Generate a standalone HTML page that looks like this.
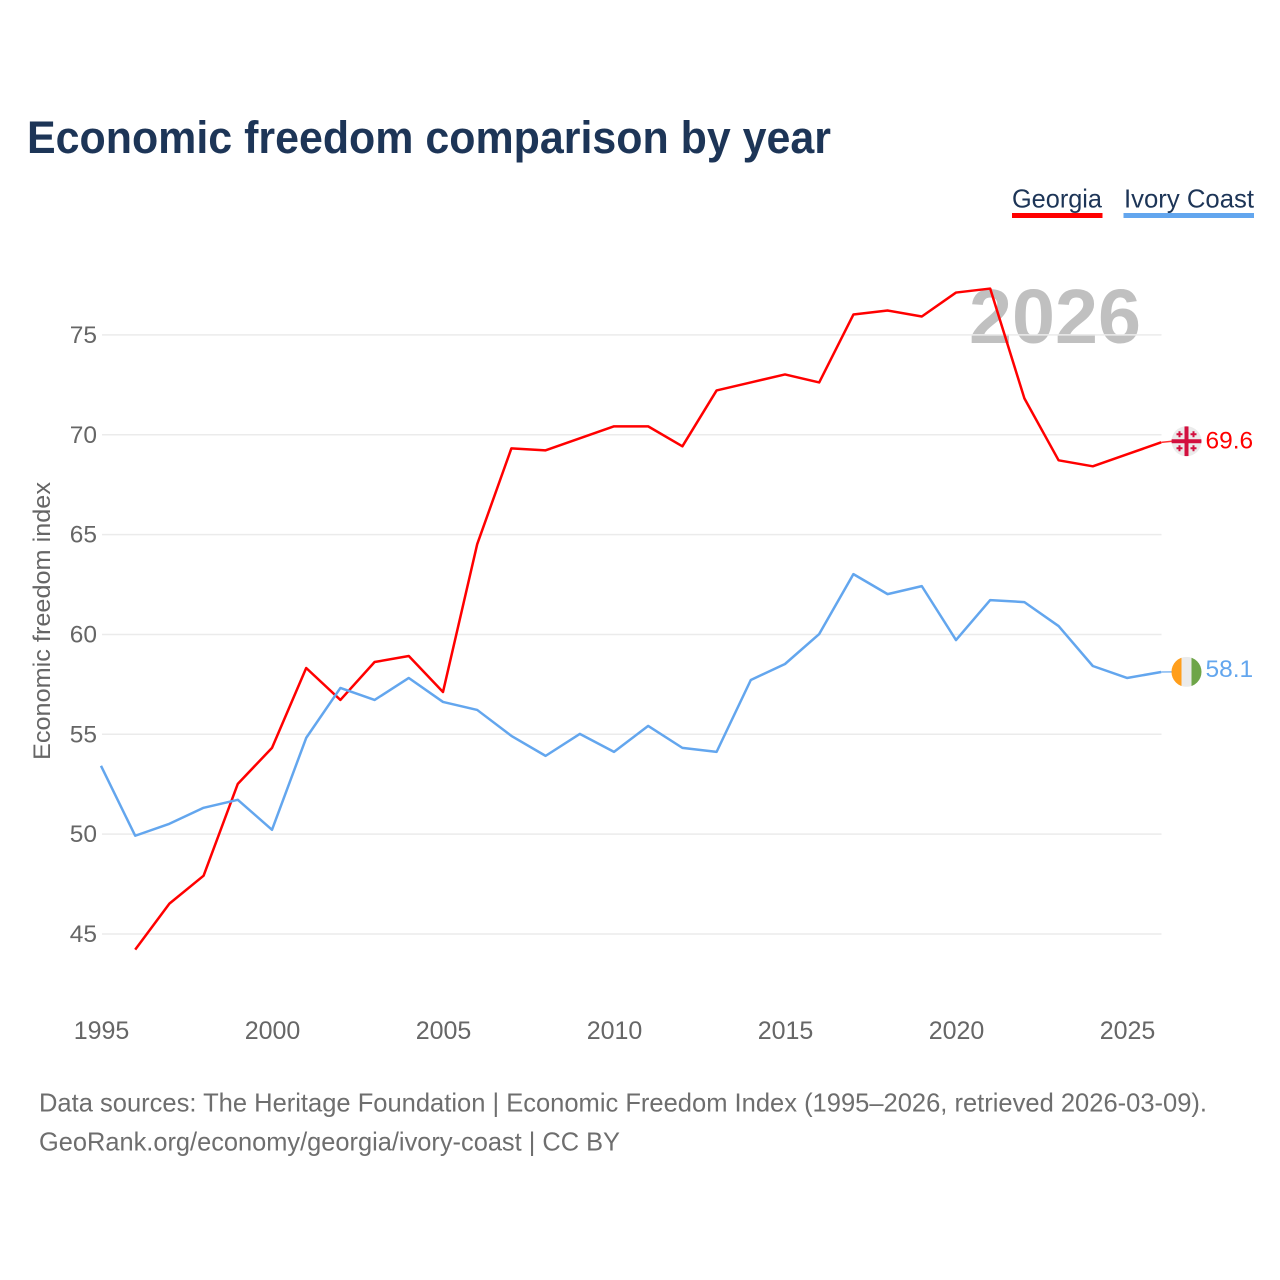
<!DOCTYPE html>
<html lang="en">
<head>
<meta charset="utf-8">
<title>Economic freedom comparison by year</title>
<style>
html,body{margin:0;padding:0;background:#fff;}
svg{display:block;font-family:"Liberation Sans",sans-serif;}
</style>
</head>
<body>
<svg id="chart" xmlns="http://www.w3.org/2000/svg" width="1280" height="1280" viewBox="0 0 1280 1280">
  <defs>
    <clipPath id="clip-georgia"><circle id="clip-georgia-circle" r="15" cx="0" cy="0"/></clipPath>
    <clipPath id="clip-ivory"><circle id="clip-ivory-circle" r="15" cx="0" cy="0"/></clipPath>
  </defs>
  <rect width="1280" height="1280" fill="#fff"/>
  <text x="27" y="153" font-size="45" font-weight="700" fill="#1d3557" textLength="804" lengthAdjust="spacingAndGlyphs">Economic freedom comparison by year</text>

  <g>
    <text x="1012" y="207.500" font-size="26" fill="#1d3557" textLength="90" lengthAdjust="spacingAndGlyphs">Georgia</text>
    <rect x="1012" y="213" width="90.5" height="5" fill="#ff0000"/>
  </g>
  <g>
    <text x="1124" y="207.500" font-size="26" fill="#1d3557" textLength="130" lengthAdjust="spacingAndGlyphs">Ivory Coast</text>
    <rect x="1123.500" y="213" width="130.500" height="5" fill="#63a6ee"/>
  </g>

  <text x="969" y="343" font-size="77" font-weight="700" fill="#c0c0c0" textLength="172" lengthAdjust="spacingAndGlyphs">2026</text>

  <g id="grid"></g>
  <g id="y-ticks"></g>
  <g id="x-ticks"></g>
  <text transform="translate(50,621) rotate(-90)" text-anchor="middle" font-size="24" fill="#666666" textLength="278" lengthAdjust="spacingAndGlyphs">Economic freedom index</text>
  <g id="series"></g>
  <g id="ends"></g>

  <text x="39" y="1111.500" font-size="26" fill="#6e6e6e" textLength="1168" lengthAdjust="spacingAndGlyphs">Data sources: The Heritage Foundation | Economic Freedom Index (1995–2026, retrieved 2026-03-09).</text>
  <text x="39" y="1150.500" font-size="26" fill="#6e6e6e" textLength="581" lengthAdjust="spacingAndGlyphs">GeoRank.org/economy/georgia/ivory-coast | CC BY</text>
</svg>
<script>
const years = [1995,1996,1997,1998,1999,2000,2001,2002,2003,2004,2005,2006,2007,2008,2009,2010,2011,2012,2013,2014,2015,2016,2017,2018,2019,2020,2021,2022,2023,2024,2025,2026];
const georgiaValues = [null,44.2,46.5,47.9,52.5,54.3,58.3,56.7,58.6,58.9,57.1,64.5,69.3,69.2,69.8,70.4,70.4,69.4,72.2,72.6,73.0,72.6,76.0,76.2,75.9,77.1,77.3,71.8,68.7,68.4,69.0,69.6];
const ivoryCoastValues = [53.4,49.9,50.5,51.3,51.7,50.2,54.8,57.3,56.7,57.8,56.6,56.2,54.9,53.9,55.0,54.1,55.4,54.3,54.1,57.7,58.5,60.0,63.0,62.0,62.4,59.7,61.7,61.6,60.4,58.4,57.8,58.1];
const yTickValues = [45,50,55,60,65,70,75];
const xTickValues = [1995,2000,2005,2010,2015,2020,2025];

const NS = 'http://www.w3.org/2000/svg';
function xScale(year){ return 101 + (year - 1995) * 34.2; }
function yScale(value){ return 934 - (value - 45) * 19.97; }
function make(tag, attrs, parent){
  const el = document.createElementNS(NS, tag);
  for (const k in attrs) el.setAttribute(k, attrs[k]);
  parent.appendChild(el);
  return el;
}

const gridG = document.getElementById('grid');
const yG = document.getElementById('y-ticks');
yTickValues.forEach(function(v){
  const line = make('line', {x1:102, x2:1161.500, y1:yScale(v), y2:yScale(v), stroke:'#ebebeb', 'stroke-width':1.5}, gridG);
  
  
  const t = make('text', {x:97, y:yScale(v)+8, 'text-anchor':'end', 'font-size':24.5, fill:'#666666'}, yG);
  
  
  t.textContent = v;
});

const xG = document.getElementById('x-ticks');
xTickValues.forEach(function(v){
  const t = make('text', {x:xScale(v)+0.5, y:1039, 'text-anchor':'middle', 'font-size':25, fill:'#666666'}, xG);
  
  
  t.textContent = v;
});

function pathFor(values){
  let d = '';
  values.forEach(function(v, i){
    if (v === null) return;
    d += (d ? 'L' : 'M') + xScale(years[i]).toFixed(2) + ' ' + (yScale(v) - 0.4).toFixed(2);
  });
  return d;
}

const seriesG = document.getElementById('series');
const georgiaLine = make('path', {d:pathFor(georgiaValues), fill:'none', stroke:'#ff0000', 'stroke-width':2.500, 'stroke-linejoin':'round'}, seriesG);


const ivoryLine = make('path', {d:pathFor(ivoryCoastValues), fill:'none', stroke:'#63a6ee', 'stroke-width':2.500, 'stroke-linejoin':'round'}, seriesG);



const endsG = document.getElementById('ends');
const lastX = xScale(years[years.length - 1]);
const flagX = 1186.5;

// Georgia end marker
const gVal = georgiaValues[georgiaValues.length - 1];
const gY = yScale(gVal) - 1.5;
const gConn = make('line', {x1:lastX, y1:yScale(gVal)-0.4, x2:1172, y2:gY, stroke:'#ff0000', 'stroke-width':1.500, opacity:0.8}, endsG);


document.getElementById('clip-georgia-circle').setAttribute('cx', flagX);
document.getElementById('clip-georgia-circle').setAttribute('cy', gY);
const gFlag = make('g', {'clip-path':'url(#clip-georgia)'}, endsG);


make('rect', {x:flagX-15, y:gY-15, width:30, height:30, fill:'#ebebeb'}, gFlag);
make('rect', {x:flagX-2, y:gY-15, width:4, height:30, fill:'#d3103f'}, gFlag);
make('rect', {x:flagX-15, y:gY-2, width:30, height:4, fill:'#d3103f'}, gFlag);
[[-7,-7],[7,-7],[-7,7],[7,7]].forEach(function(o){
  make('rect', {x:flagX+o[0]-1, y:gY+o[1]-3, width:2, height:6, fill:'#d3103f'}, gFlag);
  make('rect', {x:flagX+o[0]-3, y:gY+o[1]-1, width:6, height:2, fill:'#d3103f'}, gFlag);
});
const gLabel = make('text', {x:1205.500, y:gY+7.500, 'font-size':24.5, fill:'#ff0000'}, endsG);


gLabel.textContent = gVal.toFixed(1);

// Ivory Coast end marker
const iVal = ivoryCoastValues[ivoryCoastValues.length - 1];
const iY = yScale(iVal) - 0.5;
const iConn = make('line', {x1:lastX, y1:yScale(iVal)-0.4, x2:1172, y2:iY, stroke:'#63a6ee', 'stroke-width':1.500, opacity:0.8}, endsG);


document.getElementById('clip-ivory-circle').setAttribute('cx', flagX);
document.getElementById('clip-ivory-circle').setAttribute('cy', iY);
const iFlag = make('g', {'clip-path':'url(#clip-ivory)'}, endsG);


make('rect', {x:flagX-15, y:iY-15, width:10, height:30, fill:'#ff9e1b'}, iFlag);
make('rect', {x:flagX-5, y:iY-15, width:10, height:30, fill:'#ebebeb'}, iFlag);
make('rect', {x:flagX+5, y:iY-15, width:10, height:30, fill:'#6ea548'}, iFlag);
const iLabel = make('text', {x:1205.500, y:iY+5, 'font-size':24.5, fill:'#63a6ee'}, endsG);


iLabel.textContent = iVal.toFixed(1);
</script>
</body>
</html>
